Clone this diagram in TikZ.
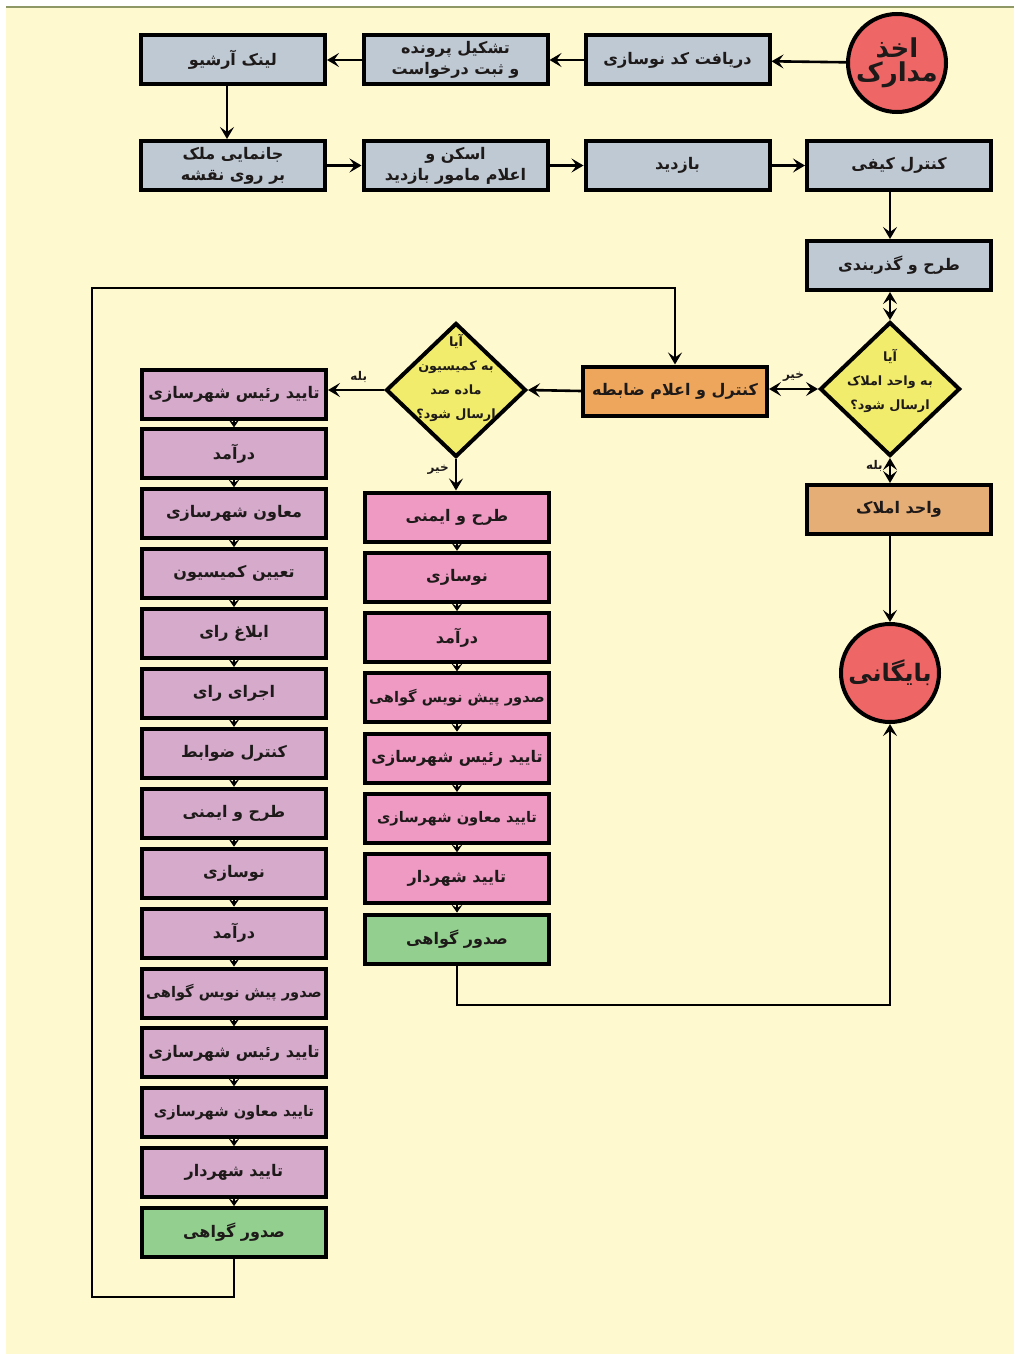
\documentclass[tikz,border=0pt]{standalone}
\usepackage{fontspec}
\usetikzlibrary{arrows.meta,shapes.geometric}
\TeXXeTstate=1
\newfontfamily\arfont[Script=Arabic]{DejaVu Sans}
\newcommand{\rtxt}[1]{\beginR #1\endR}
\definecolor{bgc}{HTML}{FFF9CF}
\definecolor{olivec}{HTML}{8E9866}
\definecolor{grayc}{HTML}{BFC9D4}
\definecolor{orangec}{HTML}{EDA65C}
\definecolor{tanc}{HTML}{E6AE77}
\definecolor{yellowc}{HTML}{F2EC6C}
\definecolor{redc}{HTML}{EE6666}
\definecolor{mauvec}{HTML}{D5AACB}
\definecolor{pinkc}{HTML}{EE9AC3}
\definecolor{greenc}{HTML}{93CF8E}
\definecolor{txtc}{HTML}{1E1A1A}
\tikzset{
  box/.style={draw=black, line width=2pt, minimum width=92pt, minimum height=24.5pt,
    inner sep=1pt, align=center, text=txtc, font=\arfont\bfseries\fontsize{8}{10.5}\selectfont},
  lng/.style={inner sep=0pt, font=\arfont\bfseries\fontsize{7.3}{10}\selectfont},
  gbox/.style={box, fill=grayc},
  obox/.style={box, fill=orangec},
  tbox/.style={box, fill=tanc},
  mbox/.style={box, fill=mauvec},
  pbox/.style={box, fill=pinkc},
  grbox/.style={box, fill=greenc},
  circ/.style={draw=black, line width=2pt, circle, fill=redc, minimum size=49pt, inner sep=0pt,
    align=center, text=txtc, font=\arfont\bfseries\fontsize{13}{14}\selectfont},
  dia/.style={draw=black, line width=2pt, diamond, fill=yellowc, minimum width=70pt,
    minimum height=67pt, inner sep=0pt},
  diatext/.style={align=center, text=txtc, font=\arfont\bfseries\fontsize{6.4}{12}\selectfont, inner sep=0pt},
  lbl/.style={text=txtc, font=\arfont\bfseries\fontsize{6}{7}\selectfont, inner sep=1pt},
  arr/.style={line width=1.3pt, -{Stealth[length=6pt,width=7pt,inset=2.5pt]}},
  darr/.style={line width=1.3pt, {Stealth[length=6pt,width=7pt,inset=2.5pt]}-{Stealth[length=6pt,width=7pt,inset=2.5pt]}},
  sarr/.style={line width=1.2pt, -{Stealth[length=4pt,width=5.5pt,inset=1.8pt]}}
}
\begin{document}
\begin{tikzpicture}[x=0.5pt,y=-0.5pt]
\useasboundingbox (0,0) rectangle (1014,1354);
\fill[white] (0,0) rectangle (1014,1354);
\fill[bgc] (6,7) rectangle (1014,1354);
\draw[olivec, line width=1pt] (6,7) -- (1014,7);

% row 1
\node[circ] (start) at (897,63) {\rtxt{اخذ}\\[-2pt]\rtxt{مدارک}};
\node[gbox] (r1a) at (677.5,60) {\rtxt{دریافت کد نوسازی}};
\node[gbox] (r1b) at (455.5,60) {\rtxt{تشکیل پرونده}\\\rtxt{و ثبت درخواست}};
\node[gbox] (r1c) at (233,60) {\rtxt{لینک آرشیو}};
% row 2
\node[gbox] (r2a) at (233,165.5) {\rtxt{جانمایی ملک}\\\rtxt{بر روی نقشه}};
\node[gbox] (r2b) at (455.5,165.5) {\rtxt{اسکن و}\\\rtxt{اعلام مامور بازدید}};
\node[gbox] (r2c) at (677.5,165.5) {\rtxt{بازدید}};
\node[gbox] (r2d) at (899,165.5) {\rtxt{کنترل کیفی}};
\node[gbox] (tg) at (899,265.5) {\rtxt{طرح و گذربندی}};

% decisions
\node[dia, label={[diatext, yshift=4pt]center:{\beginR آیا\endR\\\beginR به واحد املاک\endR\\\beginR ارسال شود؟\endR}}] (d1) at (890,389) {};
\node[obox] (kz) at (675,391) {\rtxt{کنترل و اعلام ضابطه}};
\node[tbox] (va) at (899,509.5) {\rtxt{واحد املاک}};
\node[circ, font=\arfont\bfseries\fontsize{12}{14}\selectfont] (bay) at (890,673) {\rtxt{بایگانی}};
\node[dia, label={[diatext, yshift=6pt]center:{\beginR آیا\endR\\\beginR به کمیسیون\endR\\\beginR ماده صد\endR\\\beginR ارسال شود؟\endR}}] (d2) at (456,390) {};

% middle column
\node[pbox] (m1) at (457,517) {\rtxt{طرح و ایمنی}};
\node[pbox] (m2) at (457,577.3) {\rtxt{نوسازی}};
\node[pbox] (m3) at (457,637.6) {\rtxt{درآمد}};
\node[pbox, lng] (m4) at (457,697.9) {\rtxt{صدور پیش نویس گواهی}};
\node[pbox] (m5) at (457,758.2) {\rtxt{تایید رئیس شهرسازی}};
\node[pbox, lng] (m6) at (457,818.5) {\rtxt{تایید معاون شهرسازی}};
\node[pbox] (m7) at (457,878.8) {\rtxt{تایید شهردار}};
\node[grbox] (m8) at (457,939.1) {\rtxt{صدور گواهی}};

% left column
\node[mbox] (L1) at (234,394) {\rtxt{تایید رئیس شهرسازی}};
\node[mbox] (L2) at (234,453.9) {\rtxt{درآمد}};
\node[mbox] (L3) at (234,513.8) {\rtxt{معاون شهرسازی}};
\node[mbox] (L4) at (234,573.7) {\rtxt{تعیین کمیسیون}};
\node[mbox] (L5) at (234,633.6) {\rtxt{ابلاغ رای}};
\node[mbox] (L6) at (234,693.5) {\rtxt{اجرای رای}};
\node[mbox] (L7) at (234,753.4) {\rtxt{کنترل ضوابط}};
\node[mbox] (L8) at (234,813.3) {\rtxt{طرح و ایمنی}};
\node[mbox] (L9) at (234,873.2) {\rtxt{نوسازی}};
\node[mbox] (L10) at (234,933.1) {\rtxt{درآمد}};
\node[mbox, lng] (L11) at (234,993) {\rtxt{صدور پیش نویس گواهی}};
\node[mbox] (L12) at (234,1052.9) {\rtxt{تایید رئیس شهرسازی}};
\node[mbox, lng] (L13) at (234,1112.8) {\rtxt{تایید معاون شهرسازی}};
\node[mbox] (L14) at (234,1172.7) {\rtxt{تایید شهردار}};
\node[grbox] (L15) at (234,1232.6) {\rtxt{صدور گواهی}};

% connectors top
\draw[arr] (start) -- (r1a);
\draw[arr] (r1a) -- (r1b);
\draw[arr] (r1b) -- (r1c);
\draw[arr] ([xshift=-3pt]r1c.south) -- ([xshift=-3pt]r2a.north);
\draw[arr] (r2a) -- (r2b);
\draw[arr] (r2b) -- (r2c);
\draw[arr] (r2c) -- (r2d);
\draw[arr] (r2d.south -| d1) -- (tg.north -| d1);
\draw[darr] (tg.south -| d1) -- (d1.north);
\draw[darr] (d1.west) -- (d1.west -| kz.east) node[lbl, midway, above, yshift=2pt] {\rtxt{خیر}};
\draw[darr] (d1.south) -- (d1.south |- va.north) node[lbl, pos=0.3, left, xshift=-2pt] {\rtxt{بله}};
\draw[arr] (va.south -| bay) -- (bay.north);
\draw[arr] (kz.west) -- (d2.east);
\draw[arr] (d2.west) -- (d2.west -| L1.east) node[lbl, pos=0.45, above, yshift=2pt] {\rtxt{بله}};
\draw[arr] (d2.south) -- (d2.south |- m1.north) node[lbl, pos=0.35, left, xshift=-2pt] {\rtxt{خیر}};

% columns
\foreach \a/\b in {m1/m2,m2/m3,m3/m4,m4/m5,m5/m6,m6/m7,m7/m8,
  L1/L2,L2/L3,L3/L4,L4/L5,L5/L6,L6/L7,L7/L8,L8/L9,L9/L10,L10/L11,L11/L12,L12/L13,L13/L14,L14/L15}
  \draw[sarr] (\a.south) -- (\b.north);

% loops
\coordinate (mb) at (457,1005);
\draw[arr] (m8.south) -- (mb) -| (bay.south);
\coordinate (c1) at (92,1297);
\coordinate (c2) at (92,288);
\draw[arr] (L15.south) |- (c1) -- (c2) -| (kz.north);
\end{tikzpicture}
\end{document}
